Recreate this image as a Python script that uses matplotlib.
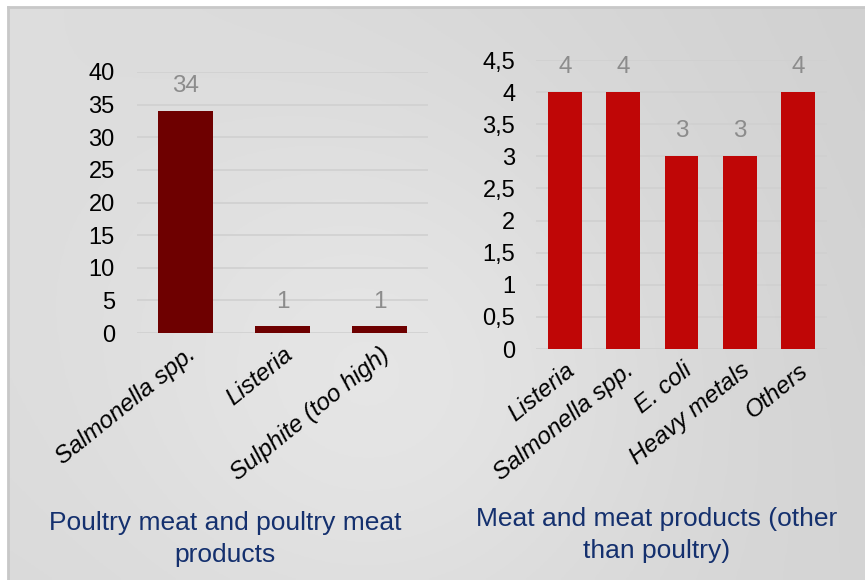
import numpy as np
import matplotlib.pyplot as plt

plt.rcParams['font.family'] = ['Liberation Sans', 'DejaVu Sans']

# данные
cats1 = ['Salmonella spp.', 'Listeria', 'Sulphite (too high)']
vals1 = [34, 1, 1]
ticks1 = [0, 5, 10, 15, 20, 25, 30, 35, 40]

cats2 = ['Listeria', 'Salmonella spp.', 'E. coli', 'Heavy metals', 'Others']
vals2 = [4, 4, 3, 3, 4]
ticks2 = [0, 0.5, 1, 1.5, 2, 2.5, 3, 3.5, 4, 4.5]

title1 = 'Poultry meat and poultry meat\nproducts'
title2 = 'Meat and meat products (other\nthan poultry)'

W, H = 865, 580
fig = plt.figure(figsize=(W / 100, H / 100), dpi=100, facecolor='white')

# фон с градиентом (углы + светлое пятно в середине)
bg = fig.add_axes([9 / W, 0, 1 - 9 / W, 1 - 8 / H])
gx, gy = np.meshgrid(np.linspace(0, 1, 200), np.linspace(0, 1, 200))  # gy=0 сверху
tl, tr, bl, br = 0xdd, 0xd1, 0xd9, 0xd4
g = (tl * (1 - gx) * (1 - gy) + tr * gx * (1 - gy) + bl * (1 - gx) * gy + br * gx * gy)
g = g + 14 * np.exp(-((gx - 0.45) ** 2 / 0.12 + (gy - 0.65) ** 2 / 0.25))
g = np.clip(g, 0, 255) / 255.0
img = np.dstack([g, g, g])
bg.imshow(img, aspect='auto', extent=[0, 1, 0, 1])
bg.set_xlim(0, 1)
bg.set_ylim(0, 1)
bg.axis('off')
fig.add_artist(plt.Line2D([8 / W, 8 / W], [0, 1 - 7 / H], color='#c8c8c8', lw=2))
fig.add_artist(plt.Line2D([8 / W, 1], [1 - 7 / H, 1 - 7 / H], color='#c8c8c8', lw=2))


def px_axes(x0, x1, y0, y1):
    return fig.add_axes([x0 / W, 1 - y1 / H, (x1 - x0) / W, (y1 - y0) / H])


def draw(ax, cats, vals, ticks, color, width, ypad):
    x = np.arange(len(cats))
    ax.set_facecolor('none')
    ax.bar(x, vals, width=width, color=color, zorder=3)
    ax.set_xlim(-0.5, len(cats) - 0.5)
    ax.set_ylim(0, ticks[-1])
    ax.set_yticks(ticks)
    ax.set_yticklabels([('%g' % t).replace('.', ',') for t in ticks], fontsize=17)
    ax.set_xticks(x)
    ax.set_xticklabels(cats, rotation=39, ha='right', rotation_mode='anchor',
                       fontsize=17.5, style='italic')
    ax.tick_params(length=0)
    ax.tick_params(axis='y', pad=ypad)
    ax.tick_params(axis='x', pad=7)
    ax.grid(axis='y', color='#d0d0d0', lw=1.2, zorder=0)
    for s in ax.spines.values():
        s.set_visible(False)
    for xi, v in zip(x, vals):
        ax.annotate(str(v), (xi, v), xytext=(0, 10), textcoords='offset points',
                    ha='center', va='bottom', fontsize=17.5, color='#8c8c8c')


ax1 = px_axes(137, 428, 72, 333)
draw(ax1, cats1, vals1, ticks1, '#6e0000', 0.57, 16)

ax2 = px_axes(536, 827, 60, 349)
draw(ax2, cats2, vals2, ticks2, '#bf0606', 0.58, 15)

fig.text(225 / W, 1 - 539 / H, title1, ha='center', va='center', fontsize=19,
         color='#14306e', linespacing=1.38)
fig.text(657 / W, 1 - 535 / H, title2, ha='center', va='center', fontsize=19,
         color='#14306e', linespacing=1.38)

fig.savefig('out.png', dpi=100)
